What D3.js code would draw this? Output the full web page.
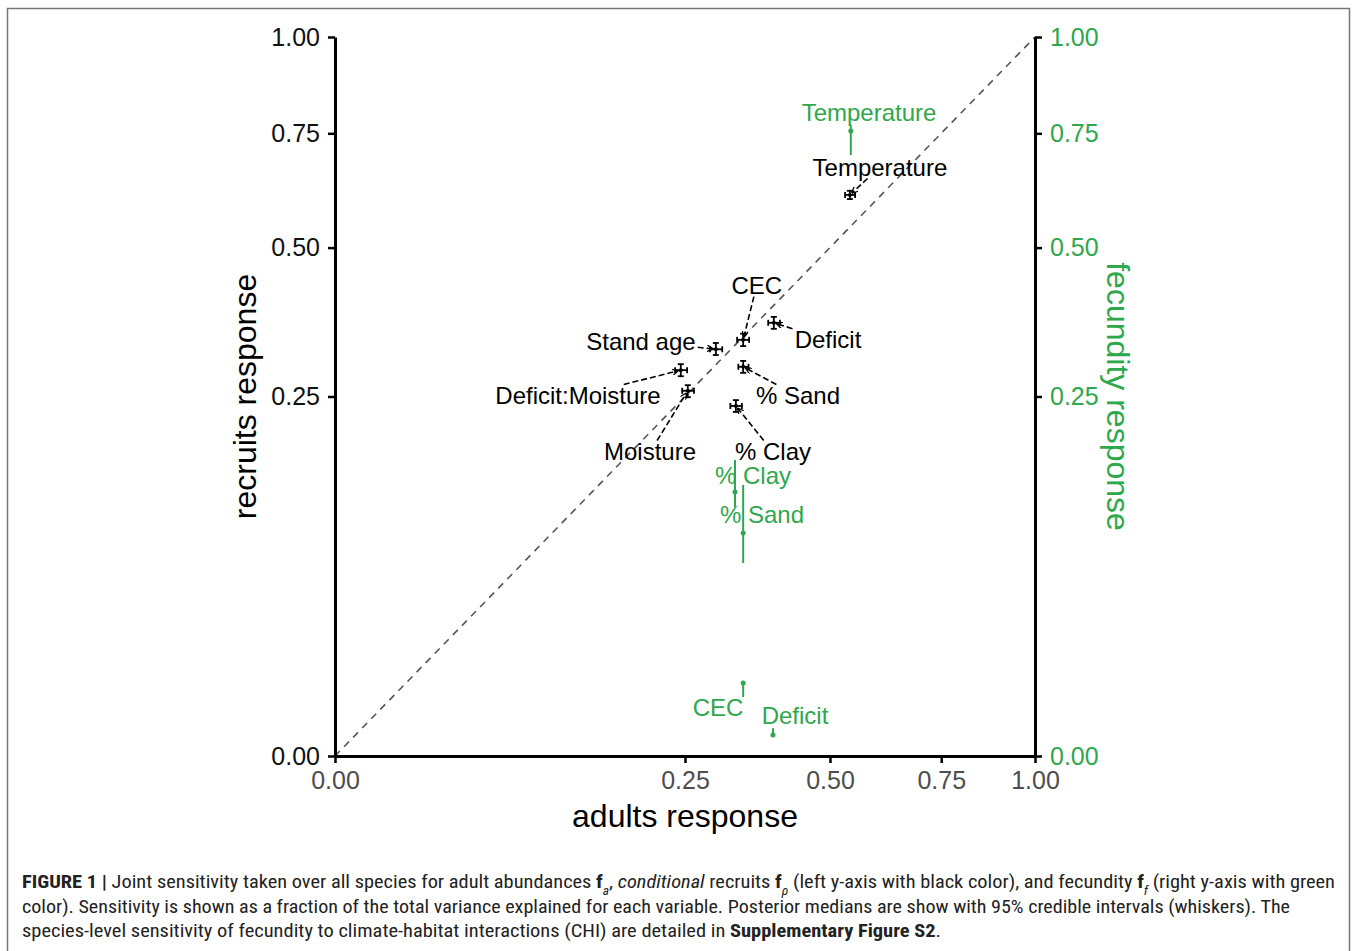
<!DOCTYPE html>
<html>
<head>
<meta charset="utf-8">
<script src="https://cdn.jsdelivr.net/npm/d3@7"></script>
<style>
  body { margin: 0; background: #fff; }
  svg { display: block; }
</style>
</head>
<body>
<div id="chart"></div>
<script>
// Joint sensitivity plot: adults (x) vs recruits (left y, black) and fecundity (right y, green)

// black series: adults vs recruits
var blackNames = ["Temperature", "CEC", "Deficit", "Stand age", "Deficit:Moisture", "Moisture", "% Sand", "% Clay"];
var blackX   = [0.541, 0.340, 0.393, 0.296, 0.244, 0.254, 0.340, 0.328];
var blackXLo = [0.531, 0.330, 0.383, 0.287, 0.236, 0.246, 0.332, 0.319];
var blackXHi = [0.552, 0.350, 0.404, 0.306, 0.253, 0.263, 0.349, 0.338];
var blackY   = [0.609, 0.335, 0.363, 0.320, 0.288, 0.258, 0.293, 0.237];
var blackYLo = [0.600, 0.325, 0.353, 0.311, 0.279, 0.249, 0.284, 0.229];
var blackYHi = [0.618, 0.345, 0.373, 0.330, 0.297, 0.266, 0.302, 0.245];
// where ggrepel put the labels (data units)
var blackLabelX = [0.606, 0.363, 0.496, 0.191, 0.1205, 0.2025, 0.4375, 0.3915];
var blackLabelY = [0.671, 0.429, 0.335, 0.333, 0.2507, 0.1788, 0.2507, 0.1788];

// green series: adults vs fecundity
var greenNames = ["Temperature", "% Clay", "% Sand", "CEC", "Deficit"];
var greenX   = [0.543, 0.3265, 0.340, 0.340, 0.3915];
var greenY   = [0.7556, 0.1348, 0.0962, 0.0103, 0.00085];
var greenYLo = [0.6987, 0.1199, 0.0721, 0.0067, 0.0007];
var greenYHi = [0.7702, 0.1695, 0.1421, 0.0109, 0.0015];
var greenLabelX = [0.582, 0.3566, 0.3721, 0.2994, 0.4318];
var greenLabelY = [0.7998, 0.1527, 0.1124, 0.00464, 0.00325];

var tickValues = [0, 0.25, 0.5, 0.75, 1];

var green = "#2ea84c";
var W = 1358, H = 951;

var svg = d3.select("#chart").append("svg")
  .attr("width", W)
  .attr("height", H)
  .style("font-family", "'Liberation Sans', Arial, Helvetica, sans-serif");

// figure frame
svg.append("rect")
  .attr("x", 7.5).attr("y", 8.5)
  .attr("width", 1342).attr("height", 960)
  .attr("fill", "none")
  .attr("stroke", "#777")
  .attr("stroke-width", 1.5);

var x = d3.scaleSqrt().domain([0, 1]).range([335, 1035]);
var y = d3.scaleSqrt().domain([0, 1]).range([756, 37]);

var defs = svg.append("defs");
defs.append("marker")
  .attr("id", "arrow")
  .attr("viewBox", "0 0 10 10")
  .attr("refX", 9).attr("refY", 5)
  .attr("markerWidth", 4).attr("markerHeight", 4)
  .attr("orient", "auto")
  .append("path")
    .attr("d", "M0,0 L10,5 L0,10")
    .attr("fill", "none")
    .attr("stroke", "#000")
    .attr("stroke-width", 2);

// diagonal reference line y = x
svg.append("line")
  .attr("x1", x(0)).attr("y1", y(0))
  .attr("x2", x(1)).attr("y2", y(1))
  .attr("stroke", "#555")
  .attr("stroke-width", 1.6)
  .attr("stroke-dasharray", "7,6");

// axes
var fmt = d3.format(".2f");

var gl = svg.append("g")
  .attr("transform", "translate(" + x(0) + ",0)")
  .call(d3.axisLeft(y).tickValues(tickValues).tickFormat(fmt).tickSize(7).tickSizeOuter(0));
gl.selectAll("text").attr("fill", "#111").style("font-size", "25px").attr("x", -15);

var gr = svg.append("g")
  .attr("transform", "translate(" + x(1) + ",0)")
  .call(d3.axisRight(y).tickValues(tickValues).tickFormat(fmt).tickSize(7).tickSizeOuter(0));
gr.selectAll("text").attr("fill", green).style("font-size", "25px").attr("x", 15);

var gb = svg.append("g")
  .attr("transform", "translate(0," + y(0) + ")")
  .call(d3.axisBottom(x).tickValues(tickValues).tickFormat(fmt).tickSize(7).tickSizeOuter(0));
gb.selectAll("text").attr("fill", "#4d4d4d").style("font-size", "25px").attr("y", 15);

svg.selectAll(".domain").attr("stroke", "#000").attr("stroke-width", 3);
svg.selectAll(".tick line").attr("stroke", "#000").attr("stroke-width", 2.5);

// axis titles
svg.append("text")
  .attr("x", (x(0) + x(1)) / 2).attr("y", 827)
  .attr("text-anchor", "middle")
  .style("font-size", "32px")
  .text("adults response");

svg.append("text")
  .attr("transform", "translate(256," + (y(0) + y(1)) / 2 + ") rotate(-90)")
  .attr("text-anchor", "middle")
  .style("font-size", "32px")
  .text("recruits response");

svg.append("text")
  .attr("transform", "translate(1107," + (y(0) + y(1)) / 2 + ") rotate(90)")
  .attr("text-anchor", "middle")
  .style("font-size", "32px")
  .attr("fill", green)
  .text("fecundity response");

// green whiskers + medians
var gpts = svg.append("g");
greenNames.forEach(function(n, i) {
  gpts.append("line")
    .attr("x1", x(greenX[i])).attr("x2", x(greenX[i]))
    .attr("y1", y(greenYLo[i])).attr("y2", y(greenYHi[i]))
    .attr("stroke", green).attr("stroke-width", 2);
  gpts.append("circle")
    .attr("cx", x(greenX[i])).attr("cy", y(greenY[i]))
    .attr("r", 2.5).attr("fill", green);
});

// green labels
greenNames.forEach(function(n, i) {
  svg.append("text")
    .attr("x", x(greenLabelX[i])).attr("y", y(greenLabelY[i]))
    .attr("text-anchor", "middle")
    .attr("dominant-baseline", "central")
    .attr("fill", green)
    .style("font-size", "24px")
    .text(n);
});

// black labels with repel-style segments
var capW = 3;
blackNames.forEach(function(n, i) {
  var px = x(blackX[i]), py = y(blackY[i]);
  var lx = x(blackLabelX[i]), ly = y(blackLabelY[i]);

  var t = svg.append("text")
    .attr("x", lx).attr("y", ly)
    .attr("text-anchor", "middle")
    .attr("dominant-baseline", "central")
    .attr("fill", "#000")
    .style("font-size", "24px")
    .text(n);
  var bb = t.node().getBBox();
  var hw = bb.width / 2 + 2, hh = bb.height / 2 - 2;

  // leave the label box on the way to the point
  var dx = px - lx, dy = py - ly;
  var s = Math.min(Math.abs(hw / (dx || 1e-6)), Math.abs(hh / (dy || 1e-6)));
  var sx = lx + dx * s, sy = ly + dy * s;
  var len = Math.sqrt(dx * dx + dy * dy);
  var ex = px - dx / len * 3, ey = py - dy / len * 3;

  svg.append("line")
    .attr("x1", sx).attr("y1", sy)
    .attr("x2", ex).attr("y2", ey)
    .attr("stroke", "#000")
    .attr("stroke-width", 1.6)
    .attr("stroke-dasharray", "6,3")
    .attr("marker-end", "url(#arrow)");
});

// black whiskers (crosses)
var bpts = svg.append("g").attr("stroke", "#000").attr("stroke-width", 1.8);
blackNames.forEach(function(n, i) {
  var px = x(blackX[i]), py = y(blackY[i]);
  var x0 = x(blackXLo[i]), x1 = x(blackXHi[i]);
  var y0 = y(blackYLo[i]), y1 = y(blackYHi[i]);
  bpts.append("line").attr("x1", x0).attr("x2", x1).attr("y1", py).attr("y2", py);
  bpts.append("line").attr("x1", x0).attr("x2", x0).attr("y1", py - capW).attr("y2", py + capW);
  bpts.append("line").attr("x1", x1).attr("x2", x1).attr("y1", py - capW).attr("y2", py + capW);
  bpts.append("line").attr("x1", px).attr("x2", px).attr("y1", y0).attr("y2", y1);
  bpts.append("line").attr("x1", px - capW).attr("x2", px + capW).attr("y1", y0).attr("y2", y0);
  bpts.append("line").attr("x1", px - capW).attr("x2", px + capW).attr("y1", y1).attr("y2", y1);
  bpts.append("circle").attr("cx", px).attr("cy", py).attr("r", 2).attr("fill", "#000").attr("stroke", "none");
});

// caption
var cap = svg.append("g")
  .style("font-family", "'Liberation Sans Narrow', 'Roboto Condensed', 'Arial Narrow', sans-serif")
  .style("font-size", "18px")
  .attr("fill", "#222");

var l1 = cap.append("text").attr("x", 22).attr("y", 888)
  .attr("textLength", 1313).attr("lengthAdjust", "spacingAndGlyphs");
l1.append("tspan").style("font-weight", "bold").text("FIGURE 1 | ");
l1.append("tspan").text("Joint sensitivity taken over all species for adult abundances ");
l1.append("tspan").style("font-weight", "bold").text("f");
l1.append("tspan").attr("baseline-shift", "sub").style("font-size", "12px").style("font-style", "italic").text("a");
l1.append("tspan").text(", ");
l1.append("tspan").style("font-style", "italic").text("conditional");
l1.append("tspan").text(" recruits ");
l1.append("tspan").style("font-weight", "bold").text("f");
l1.append("tspan").attr("baseline-shift", "sub").style("font-size", "12px").style("font-style", "italic").text("ρ");
l1.append("tspan").text(" (left y-axis with black color), and fecundity ");
l1.append("tspan").style("font-weight", "bold").text("f");
l1.append("tspan").attr("baseline-shift", "sub").style("font-size", "12px").style("font-style", "italic").text("f");
l1.append("tspan").text(" (right y-axis with green");

cap.append("text").attr("x", 22).attr("y", 913)
  .attr("textLength", 1268).attr("lengthAdjust", "spacingAndGlyphs")
  .text("color). Sensitivity is shown as a fraction of the total variance explained for each variable. Posterior medians are show with 95% credible intervals (whiskers). The");

var l3 = cap.append("text").attr("x", 22).attr("y", 937)
  .attr("textLength", 919).attr("lengthAdjust", "spacingAndGlyphs");
l3.append("tspan").text("species-level sensitivity of fecundity to climate-habitat interactions (CHI) are detailed in ");
l3.append("tspan").style("font-weight", "bold").text("Supplementary Figure S2");
l3.append("tspan").text(".");
</script>
</body>
</html>
